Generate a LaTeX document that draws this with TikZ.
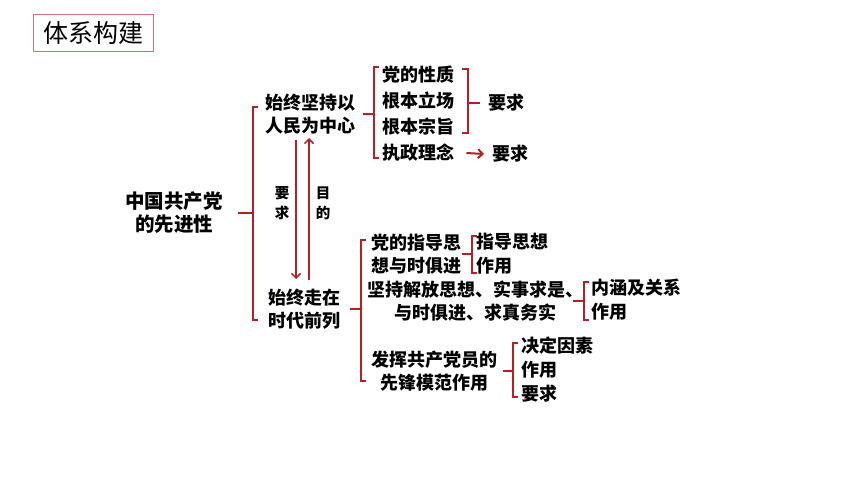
\documentclass[tikz,border=0pt]{standalone}
\usepackage{fontspec}
\setmainfont{Noto Sans CJK SC}
\usetikzlibrary{positioning, calc, arrows.meta}
\definecolor{brkred}{RGB}{180,32,38}
\definecolor{boxred}{RGB}{214,112,118}

\begin{document}
\begin{tikzpicture}[x=1pt, y=-1pt, >={Straight Barb[length=4.5pt, width=9pt]},
    txt/.style={font=\fontsize{18}{22.5}\selectfont\bfseries, inner sep=0pt, align=center},
    itm/.style={txt, anchor=west},
    tip/.style={font=\fontsize{14.5}{20}\selectfont\bfseries, inner sep=0pt, align=center},
    brk/.style={draw=brkred, line width=1.5pt}]
    \useasboundingbox (0,0) rectangle (860,484);

    % title
    \node (title) [draw=boxred, line width=1pt, minimum width=120, minimum height=37, font=\fontsize{25}{25}\selectfont] at (93,33.5) {体系构建};

    % root and the two main branches
    \node (root) [txt, font=\fontsize{19.5}{23}\selectfont\bfseries] at (174,213) {中国共产党\\的先进性};
    \node (a1) [txt] at (310,114) {始终坚持以\\人民为中心};
    \node (a2) [txt] at (304,309) {始终走在\\时代前列};
    \node (l1) [tip] at (282,203) {要\\求};
    \node (l2) [tip] at (323,203) {目\\的};

    % upper branch
    \node (b1) [itm] at (382,75) {党的性质};
    \node (b2) [itm] at (382,101) {根本立场};
    \node (b3) [itm] at (382,127) {根本宗旨};
    \node (b4) [itm] at (382,153) {执政理念};
    \node (r1) [itm] at (488,103) {要求};
    \node (r2) [itm] at (492,154) {要求};

    % lower branch
    \node (c1) [txt] at (416,254) {党的指导思\\想与时俱进};
    \node (c2) [txt] at (475,301) {坚持解放思想、实事求是、\\与时俱进、求真务实};
    \node (c3) [txt] at (434,371) {发挥共产党员的\\先锋模范作用};
    \node (d1) [itm] at (476,242) {指导思想};
    \node (d2) [itm] at (476,266) {作用};
    \node (e1) [itm] at (591,288) {内涵及关系};
    \node (e2) [itm] at (591,312) {作用};
    \node (f1) [itm] at (521,346) {决定因素};
    \node (f2) [itm] at (521,370) {作用};
    \node (f3) [itm] at (521,394) {要求};

    % brackets
    \coordinate (k1t) at (253,107); \coordinate (k1b) at (253,320);
    \draw [brk] ($(k1t)+(5,0)$) -- (k1t) -- (k1b) -- ($(k1b)+(5,0)$);
    \draw [brk] ($(k1t |- root)+(-15,0)$) -- (k1t |- root);

    \coordinate (k2t) at (374,67); \coordinate (k2b) at (374,158);
    \draw [brk] ($(k2t)+(5,0)$) -- (k2t) -- (k2b) -- ($(k2b)+(5,0)$);
    \draw [brk] ($(k2t |- a1)+(-11,0)$) -- (k2t |- a1);

    \coordinate (k3t) at (468,69); \coordinate (k3b) at (468,133);
    \draw [brk] ($(k3t)+(-6,0)$) -- (k3t) -- (k3b) -- ($(k3b)+(-6,0)$);
    \draw [brk] (k3t |- r1) -- ($(r1.west)+(-8,0)$);
    \draw [brk, line width=2pt, ->] ($(b4.east)+(12,0)$) -- ($(r2.west)+(-8,0)$);

    \coordinate (k4t) at (361,240); \coordinate (k4b) at (361,381);
    \draw [brk] ($(k4t)+(5,0)$) -- (k4t) -- (k4b) -- ($(k4b)+(5,0)$);
    \draw [brk] ($(k4t |- a2)+(-11,0)$) -- (k4t |- a2);

    \coordinate (k5t) at (472,236); \coordinate (k5b) at (472,273);
    \draw [brk] ($(k5t)+(5,0)$) -- (k5t) -- (k5b) -- ($(k5b)+(5,0)$);
    \draw [brk] ($(k5t |- c1)+(-10,0)$) -- (k5t |- c1);

    \coordinate (k6t) at (584,282); \coordinate (k6b) at (584,320);
    \draw [brk] ($(k6t)+(5,0)$) -- (k6t) -- (k6b) -- ($(k6b)+(5,0)$);
    \draw [brk] ($(k6t |- c2)+(-11,0)$) -- (k6t |- c2);

    \coordinate (k7t) at (513,343); \coordinate (k7b) at (513,397);
    \draw [brk] ($(k7t)+(5,0)$) -- (k7t) -- (k7b) -- ($(k7b)+(5,0)$);
    \draw [brk] ($(k7t |- c3)+(-10,0)$) -- (k7t |- c3);

    % arrows between the branches
    \coordinate (u1) at (296,140); \coordinate (u2) at (296,279);
    \draw [brk, ->] (u1) -- (u2);
    \coordinate (v1) at (309,280); \coordinate (v2) at (309,138);
    \draw [brk, ->] (v1) -- (v2);
\end{tikzpicture}
\end{document}
